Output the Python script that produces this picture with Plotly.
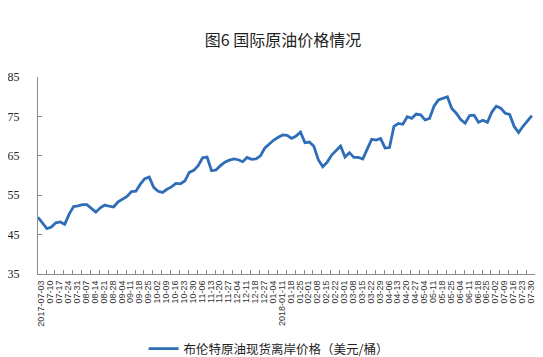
import plotly.graph_objects as go

# Tick labels (weekly trading dates)
tick_labels = [
    "2017-07-03", "07-10", "07-17", "07-24", "07-31", "08-07", "08-14", "08-21", "08-28",
    "09-04", "09-11", "09-18", "09-25", "10-02", "10-09", "10-16", "10-23", "10-30",
    "11-06", "11-13", "11-20", "11-27", "12-04", "12-11", "12-18", "12-27", "01-04",
    "2018-01-11", "01-18", "01-25", "02-01", "02-08", "02-15", "02-22", "03-01", "03-08",
    "03-15", "03-22", "03-29", "04-06", "04-13", "04-20", "04-27", "05-04", "05-11",
    "05-18", "05-25", "06-04", "06-11", "06-18", "06-25", "07-02", "07-09", "07-16",
    "07-23", "07-30",
]

# Brent spot price (USD/bbl), sampled twice a week
brent = [
    49.4, 48.0, 46.5, 46.9, 48.0, 48.2, 47.6, 50.2, 52.1, 52.3,
    52.6, 52.6, 51.6, 50.7, 51.8, 52.5, 52.2, 52.0, 53.3, 54.0,
    54.7, 55.9, 56.0, 57.8, 59.2, 59.6, 57.0, 56.0, 55.7, 56.5,
    57.1, 58.0, 57.9, 58.6, 60.8, 61.3, 62.5, 64.5, 64.7, 61.2,
    61.4, 62.5, 63.4, 63.9, 64.2, 64.0, 63.5, 64.6, 64.1, 64.2,
    65.0, 67.0, 68.0, 69.0, 69.7, 70.3, 70.2, 69.4, 70.0, 71.0,
    68.3, 68.5, 67.4, 64.0, 62.2, 63.4, 65.2, 66.4, 67.5, 64.7,
    65.8, 64.6, 64.6, 64.2, 66.5, 69.2, 69.0, 69.4, 67.0, 67.1,
    72.5, 73.2, 73.0, 74.9, 74.5, 75.6, 75.4, 74.1, 74.5, 77.6,
    79.2, 79.6, 80.0, 77.0, 75.8, 74.2, 73.3, 75.2, 75.3, 73.5,
    74.0, 73.5, 76.1, 77.6, 77.1, 75.8, 75.5, 72.5, 70.9, 72.5,
    74.0, 75.2,
]

series_name = "布伦特原油现货离岸价格（美元/桶）"
title_text = "图6 国际原油价格情况"
y_ticks = [35, 45, 55, 65, 75, 85]

# x position in units of label index (half a week per sample)
start = -0.4
step = 0.5
x_vals = [start + step * i for i in range(len(brent))]

fig = go.Figure()
fig.add_trace(go.Scatter(
    x=x_vals, y=brent, mode="lines", name=series_name,
    line=dict(color="#2E6DB8", width=2.8),
))

axis_color = "#8C8C8C"
fig.update_layout(
    width=543, height=357,
    margin=dict(l=30, r=16, t=69, b=91),
    paper_bgcolor="white", plot_bgcolor="white",
    title=dict(text=title_text, x=275 / 543, xanchor="center", y=1 - 32 / 357, yanchor="middle",
               font=dict(family="Noto Sans CJK SC", size=16, color="#222222")),
    showlegend=True,
    legend=dict(orientation="h", x=0.464, xanchor="center", yref="container", y=1 - 341 / 357,
                yanchor="middle", font=dict(family="Noto Sans CJK SC", size=12.5, color="#222222"),
                itemwidth=30),
    xaxis=dict(
        range=[-0.4, 55.45], showgrid=False, zeroline=False, automargin=False,
        showline=True, linecolor=axis_color, linewidth=1,
        tickmode="array", tickvals=list(range(len(tick_labels))), ticktext=tick_labels,
        tickangle=-90, ticks="", ticklabelstandoff=2,
        tickfont=dict(family="Liberation Sans", size=9, color="#333333"),
        minor=dict(tickmode="linear", tick0=0.5, dtick=1, ticks="inside", ticklen=4,
                   tickcolor=axis_color, showgrid=False),
    ),
    yaxis=dict(
        range=[35, 85], showgrid=False, zeroline=False, automargin=False,
        showline=True, linecolor=axis_color, linewidth=1,
        tickmode="array", tickvals=y_ticks, ticks="inside", ticklen=4, tickcolor=axis_color,
        ticklabelstandoff=15,
        tickfont=dict(family="Liberation Serif", size=12, color="#222222"),
    ),
)

fig.write_html("out.html")
